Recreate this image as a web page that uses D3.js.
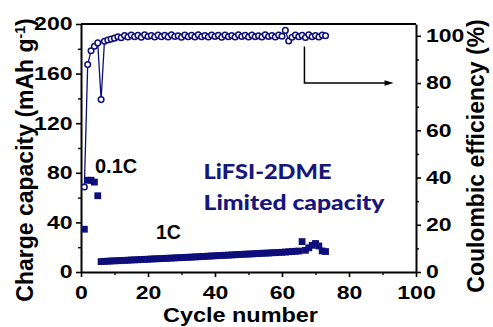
<!DOCTYPE html>
<html>
<head>
<meta charset="utf-8">
<script src="https://cdn.jsdelivr.net/npm/d3@7/dist/d3.min.js"></script>
<style>
  html, body { margin: 0; padding: 0; background: #fff; }
  svg { display: block; }
  text { font-family: "Liberation Sans", Arial, sans-serif; font-weight: bold; }
</style>
</head>
<body>
<svg id="chart" width="493" height="327"></svg>
<script>
// Cycle index for both series
const cycles = d3.range(1, 74);

// Charge capacity (mAh g-1), cycles 1-73: 0.1C for cycles 1-5, then 1C
const chargeCapacity = [
  34.5, 74.0, 74.0, 72.5, 61.5,
  8.4, 8.6, 8.7, 8.9, 9.0, 9.1, 9.3, 9.4, 9.5, 9.7,
  9.8, 9.9, 10.1, 10.2, 10.3, 10.5, 10.6, 10.7, 10.8, 11.0,
  11.1, 11.2, 11.4, 11.5, 11.6, 11.8, 11.9, 12.0, 12.2, 12.3,
  12.5, 12.6, 12.8, 12.9, 13.1, 13.2, 13.4, 13.5, 13.6, 13.8,
  13.9, 14.1, 14.2, 14.4, 14.5, 14.6, 14.8, 14.9, 15.1, 15.2,
  15.3, 15.5, 15.6, 15.8, 15.9, 16.1, 16.3, 16.5, 16.7, 16.9,
  24.5, 17.5, 19.5, 21.5, 23.0, 21.0, 17.0, 16.5
];

// Coulombic efficiency (%), cycles 1-73
const coulombicEff = [
  36.0, 87.8, 93.7, 95.6, 97.0, 73.0, 97.7, 98.2, 98.6, 99.0,
  99.6, 99.2, 100.1, 99.5, 100.3, 99.6, 100.2, 99.4, 100.4, 99.7,
  100.1, 99.5, 100.3, 99.6, 100.2, 99.5, 100.4, 99.7, 100.0, 99.4,
  100.3, 99.6, 100.2, 99.5, 100.4, 99.6, 100.1, 99.5, 100.3, 99.7,
  100.2, 99.4, 100.3, 99.6, 100.1, 99.5, 100.4, 99.7, 100.2, 99.5,
  100.3, 99.6, 100.0, 99.5, 100.4, 99.7, 100.1, 99.5, 100.3, 99.8,
  102.3, 97.8, 99.4, 100.3, 99.6, 100.2, 99.3, 100.4, 99.6, 100.1,
  99.5, 100.3, 100.0
];

// Axis ticks
const xMajor = [0, 20, 40, 60, 80, 100];
const xMinor = [10, 30, 50, 70, 90];
const yLeftMajor = [0, 40, 80, 120, 160, 200];
const yLeftMinor = [20, 60, 100, 140, 180];
const yRightMajor = [0, 20, 40, 60, 80, 100];
const yRightMinor = [10, 30, 50, 70, 90];

const navy = "#0e0e7a";
const box = { left: 81, top: 24, right: 416, bottom: 272 };

const svg = d3.select("#chart");

const x = d3.scaleLinear().domain([0, 100]).range([box.left, box.right]);
const yL = d3.scaleLinear().domain([0, 200]).range([box.bottom, box.top]);
const yR = d3.scaleLinear().domain([0, 105]).range([box.bottom, box.top]);

// Frame top edge
svg.append("line")
  .attr("x1", box.left).attr("x2", box.right)
  .attr("y1", box.top).attr("y2", box.top)
  .attr("stroke", "#000").attr("stroke-width", 2);

function styleAxis(g) {
  g.select(".domain").attr("stroke", "#000").attr("stroke-width", 2);
  g.selectAll(".tick line").attr("stroke", "#000").attr("stroke-width", 1.6);
  g.selectAll(".tick text")
    .attr("fill", "#000")
    .style("font-size", "18.5px")
    .attr("lengthAdjust", "spacingAndGlyphs")
    .attr("textLength", d => String(d).length * 12.8);
}

// Bottom axis
const gx = svg.append("g").attr("transform", `translate(0,${box.bottom})`)
  .call(d3.axisBottom(x).tickValues(xMajor).tickSize(5).tickSizeOuter(0).tickPadding(10));
styleAxis(gx);
gx.selectAll(".tick text").attr("dy", "0.71em").attr("y", 14);
svg.append("g").attr("transform", `translate(0,${box.bottom})`)
  .call(d3.axisBottom(x).tickValues(xMinor).tickSize(3).tickFormat(""))
  .call(g => { g.select(".domain").remove(); g.selectAll("line").attr("stroke", "#000").attr("stroke-width", 1.4); });

// Left axis
const gl = svg.append("g").attr("transform", `translate(${box.left},0)`)
  .call(d3.axisLeft(yL).tickValues(yLeftMajor).tickSize(5).tickSizeOuter(0));
styleAxis(gl);
gl.selectAll(".tick text").attr("x", -8.5);
svg.append("g").attr("transform", `translate(${box.left},0)`)
  .call(d3.axisLeft(yL).tickValues(yLeftMinor).tickSize(3).tickFormat(""))
  .call(g => { g.select(".domain").remove(); g.selectAll("line").attr("stroke", "#000").attr("stroke-width", 1.4); });

// Right axis
const gr = svg.append("g").attr("transform", `translate(${box.right},0)`)
  .call(d3.axisRight(yR).tickValues(yRightMajor).tickSize(5).tickSizeOuter(0));
styleAxis(gr);
gr.selectAll(".tick text").attr("x", 10);
svg.append("g").attr("transform", `translate(${box.right},0)`)
  .call(d3.axisRight(yR).tickValues(yRightMinor).tickSize(3).tickFormat(""))
  .call(g => { g.select(".domain").remove(); g.selectAll("line").attr("stroke", "#000").attr("stroke-width", 1.4); });

// Axis titles
svg.append("text")
  .attr("x", 240.5).attr("y", 321.5)
  .attr("text-anchor", "middle")
  .style("font-size", "21px")
  .attr("textLength", 155).attr("lengthAdjust", "spacingAndGlyphs")
  .text("Cycle number");

const leftTitle = svg.append("text")
  .attr("transform", "translate(33,160) rotate(-90)")
  .attr("text-anchor", "middle")
  .style("font-size", "23px");
leftTitle.append("tspan").text("Charge capacity (mAh g");
leftTitle.append("tspan").attr("dy", -8).style("font-size", "14px").text("-1");
leftTitle.append("tspan").attr("dy", 8).text(")");

svg.append("text")
  .attr("transform", "translate(484,156) rotate(-90)")
  .attr("text-anchor", "middle")
  .style("font-size", "23px")
  .text("Coulombic efficiency (%)");

// Coulombic efficiency: connecting line and open circles
const ceData = cycles.map((c, i) => ({ c, v: coulombicEff[i] }));
svg.append("path")
  .datum(ceData)
  .attr("fill", "none")
  .attr("stroke", navy)
  .attr("stroke-width", 1.3)
  .attr("d", d3.line().x(d => x(d.c)).y(d => yR(d.v)));
svg.append("g").selectAll("circle")
  .data(ceData)
  .join("circle")
  .attr("cx", d => x(d.c))
  .attr("cy", d => yR(d.v))
  .attr("r", 2.8)
  .attr("fill", "#fff")
  .attr("stroke", navy)
  .attr("stroke-width", 1.5);

// Charge capacity: filled squares
const sq = 6.8;
const capData = cycles.map((c, i) => ({ c, v: chargeCapacity[i] }));
svg.append("g").selectAll("rect")
  .data(capData)
  .join("rect")
  .attr("x", d => x(d.c) - sq / 2)
  .attr("y", d => yL(d.v) - sq / 2)
  .attr("width", sq)
  .attr("height", sq)
  .attr("fill", navy);

// Arrow pointing from the efficiency curve to its axis
const arrow = { c0: 66.7, e0: 95.5, e1: 80, c1: 93.3 };
svg.append("path")
  .attr("d", `M${x(arrow.c0)},${yR(arrow.e0)}V${yR(arrow.e1)}H${x(arrow.c1) - 8}`)
  .attr("fill", "none").attr("stroke", "#000").attr("stroke-width", 1.5);
svg.append("path")
  .attr("d", `M${x(arrow.c1) - 9},${yR(arrow.e1) - 2.8}L${x(arrow.c1)},${yR(arrow.e1)}L${x(arrow.c1) - 9},${yR(arrow.e1) + 2.8}Z`)
  .attr("fill", "#000");

// Rate labels
svg.append("text").attr("x", 95).attr("y", 173.3)
  .style("font-size", "20px").attr("fill", "#000").text("0.1C");
svg.append("text").attr("x", 156).attr("y", 239)
  .style("font-size", "19.5px").attr("fill", "#000").text("1C");

// Electrolyte / condition labels
svg.append("text").attr("x", 203.5).attr("y", 179)
  .style("font-family", "Lato, 'Open Sans', sans-serif").style("font-size", "21px")
  .style("font-weight", "900")
  .attr("fill", "#16167c")
  .attr("textLength", 128).attr("lengthAdjust", "spacingAndGlyphs")
  .text("LiFSI-2DME");
svg.append("text").attr("x", 203.5).attr("y", 209.5)
  .style("font-family", "Lato, 'Open Sans', sans-serif").style("font-size", "21px")
  .style("font-weight", "900")
  .attr("fill", "#16167c")
  .attr("textLength", 181).attr("lengthAdjust", "spacingAndGlyphs")
  .text("Limited capacity");
</script>
</body>
</html>
